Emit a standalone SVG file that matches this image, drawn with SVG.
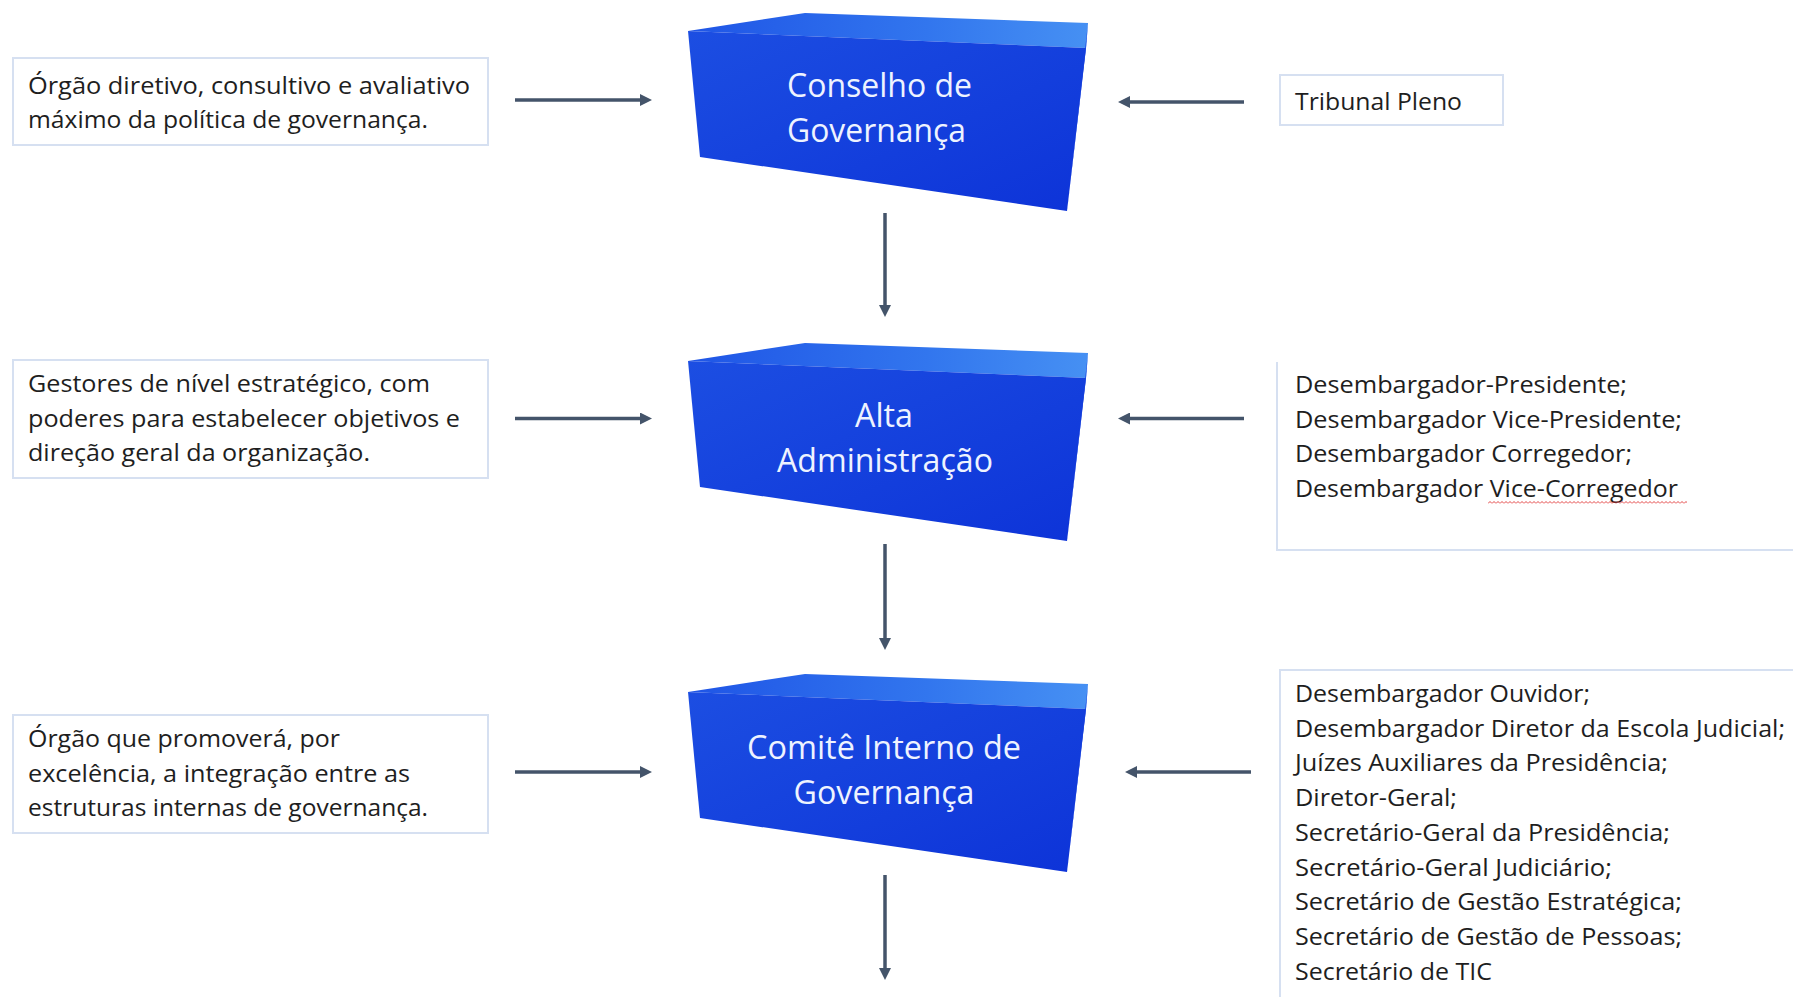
<svg xmlns="http://www.w3.org/2000/svg" width="1793" height="997" viewBox="0 0 1793 997">
<defs>
<linearGradient id="front" x1="0" y1="0" x2="1" y2="1">
<stop offset="0" stop-color="#1c4ee2"/><stop offset="1" stop-color="#0d33d8"/>
</linearGradient>
<linearGradient id="top" x1="0" y1="0" x2="1" y2="0">
<stop offset="0" stop-color="#1f55e6"/><stop offset="0.6" stop-color="#3276ee"/><stop offset="1" stop-color="#4690f3"/>
</linearGradient>
<marker id="ah" viewBox="0 0 12 12" refX="6" refY="6" markerWidth="12" markerHeight="12" markerUnits="userSpaceOnUse" orient="auto">
<path d="M0,0 L12,6 L0,12 z" fill="#44546a"/>
</marker>
<pattern id="sq" x="0" y="0" width="4" height="3" patternUnits="userSpaceOnUse">
<path d="M0,2.5 L2,0.5 L4,2.5" fill="none" stroke="#e03030" stroke-width="0.9"/>
</pattern>
<g id="cube">
<polygon points="688,31 805,13 1088,23 1086,48" fill="url(#top)"/>
<polygon points="1086,48 1088,23 1067,211" fill="#1b45e2"/>
<polygon points="688,31 1086,48 1067,211 700,157" fill="url(#front)"/>
</g>
</defs>
<style>
.desc rect{fill:#fff;stroke:#d6e0f1;stroke-width:2}
.edge{fill:none;stroke:#d6e0f1;stroke-width:2}
.t{font-family:"Open Sans","Liberation Sans",sans-serif;font-size:24.5px;fill:#1e1e1e}
.bt{font-family:"Open Sans","Liberation Sans",sans-serif;font-size:32px;fill:#eef3ff;text-anchor:middle}
.conn line{stroke:#44546a;stroke-width:3.5;marker-end:url(#ah)}
</style>
<rect width="1793" height="997" fill="#fff"/>

<g id="node-conselho">
<use href="#cube"/>
<text class="bt" x="879.5" y="97" textLength="185" lengthAdjust="spacingAndGlyphs">Conselho de</text>
<text class="bt" x="876.5" y="142" textLength="179" lengthAdjust="spacingAndGlyphs">Governança</text>
</g>
<g id="node-alta">
<use href="#cube" transform="translate(0,330)"/>
<text class="bt" x="884" y="427" textLength="58" lengthAdjust="spacingAndGlyphs">Alta</text>
<text class="bt" x="885" y="472" textLength="216" lengthAdjust="spacingAndGlyphs">Administração</text>
</g>
<g id="node-comite">
<use href="#cube" transform="translate(0,661)"/>
<text class="bt" x="884" y="759" textLength="274" lengthAdjust="spacingAndGlyphs">Comitê Interno de</text>
<text class="bt" x="884" y="804" textLength="181" lengthAdjust="spacingAndGlyphs">Governança</text>
</g>

<g id="desc-conselho" class="desc">
<rect x="13" y="58" width="475" height="87"/>
<text class="t" x="28" y="94" textLength="442" lengthAdjust="spacingAndGlyphs">Órgão diretivo, consultivo e avaliativo</text>
<text class="t" x="28" y="128" textLength="400" lengthAdjust="spacingAndGlyphs">máximo da política de governança.</text>
</g>
<g id="desc-alta" class="desc">
<rect x="13" y="360" width="475" height="118"/>
<text class="t" x="28" y="392" textLength="402" lengthAdjust="spacingAndGlyphs">Gestores de nível estratégico, com</text>
<text class="t" x="28" y="426.5" textLength="432" lengthAdjust="spacingAndGlyphs">poderes para estabelecer objetivos e</text>
<text class="t" x="28" y="461" textLength="342" lengthAdjust="spacingAndGlyphs">direção geral da organização.</text>
</g>
<g id="desc-comite" class="desc">
<rect x="13" y="715" width="475" height="118"/>
<text class="t" x="28" y="747" textLength="312" lengthAdjust="spacingAndGlyphs">Órgão que promoverá, por</text>
<text class="t" x="28" y="781.5" textLength="382" lengthAdjust="spacingAndGlyphs">excelência, a integração entre as</text>
<text class="t" x="28" y="816" textLength="400" lengthAdjust="spacingAndGlyphs">estruturas internas de governança.</text>
</g>

<g id="members-conselho" class="desc">
<rect x="1280" y="75" width="223" height="50"/>
<text class="t" x="1295" y="110" textLength="167" lengthAdjust="spacingAndGlyphs">Tribunal Pleno</text>
</g>
<g id="members-alta">
<path class="edge" d="M1277,362 L1277,550 L1800,550"/>
<text class="t" x="1295" y="393" textLength="332" lengthAdjust="spacingAndGlyphs">Desembargador-Presidente;</text>
<text class="t" x="1295" y="428" textLength="387" lengthAdjust="spacingAndGlyphs">Desembargador Vice-Presidente;</text>
<text class="t" x="1295" y="462" textLength="337" lengthAdjust="spacingAndGlyphs">Desembargador Corregedor;</text>
<text class="t" x="1295" y="497" textLength="383" lengthAdjust="spacingAndGlyphs">Desembargador Vice-Corregedor</text>
<rect x="1488" y="501" width="199" height="3" fill="url(#sq)"/>
</g>
<g id="members-comite" class="desc">
<rect x="1280" y="670" width="540" height="340"/>
<text class="t" x="1295" y="702" textLength="295" lengthAdjust="spacingAndGlyphs">Desembargador Ouvidor;</text>
<text class="t" x="1295" y="736.7" textLength="490" lengthAdjust="spacingAndGlyphs">Desembargador Diretor da Escola Judicial;</text>
<text class="t" x="1295" y="771.4" textLength="373" lengthAdjust="spacingAndGlyphs">Juízes Auxiliares da Presidência;</text>
<text class="t" x="1295" y="806" textLength="162" lengthAdjust="spacingAndGlyphs">Diretor-Geral;</text>
<text class="t" x="1295" y="840.8" textLength="375" lengthAdjust="spacingAndGlyphs">Secretário-Geral da Presidência;</text>
<text class="t" x="1295" y="875.5" textLength="317" lengthAdjust="spacingAndGlyphs">Secretário-Geral Judiciário;</text>
<text class="t" x="1295" y="910" textLength="387" lengthAdjust="spacingAndGlyphs">Secretário de Gestão Estratégica;</text>
<text class="t" x="1295" y="945" textLength="387" lengthAdjust="spacingAndGlyphs">Secretário de Gestão de Pessoas;</text>
<text class="t" x="1295" y="979.6" textLength="197" lengthAdjust="spacingAndGlyphs">Secretário de TIC</text>
</g>

<g id="connectors" class="conn">
<line x1="515" y1="100" x2="646" y2="100"/>
<line x1="1244" y1="102" x2="1124" y2="102"/>
<line x1="515" y1="418.5" x2="646" y2="418.5"/>
<line x1="1244" y1="418.5" x2="1124" y2="418.5"/>
<line x1="515" y1="772" x2="646" y2="772"/>
<line x1="1251" y1="772" x2="1131" y2="772"/>
<line x1="885" y1="213" x2="885" y2="311"/>
<line x1="885" y1="544" x2="885" y2="644"/>
<line x1="885" y1="875" x2="885" y2="974"/>
</g>
</svg>
